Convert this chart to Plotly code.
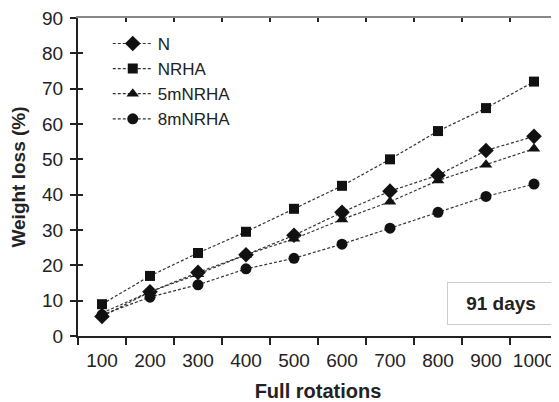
import plotly.graph_objects as go

rotations = ["100", "200", "300", "400", "500", "600", "700", "800", "900", "1000"]
N = [5.5, 12.5, 18.0, 23.0, 28.5, 35.0, 41.0, 45.5, 52.5, 56.5]
NRHA = [9.0, 17.0, 23.5, 29.5, 36.0, 42.5, 50.0, 58.0, 64.5, 72.0]
m5NRHA = [6.5, 12.5, 17.5, 23.0, 27.5, 33.0, 38.0, 44.0, 48.5, 53.0]
m8NRHA = [6.0, 11.0, 14.5, 19.0, 22.0, 26.0, 30.5, 35.0, 39.5, 43.0]
y_ticks = [0, 10, 20, 30, 40, 50, 60, 70, 80, 90]

series = [
    ("N", N, "diamond", 12),
    ("NRHA", NRHA, "square", 10),
    ("5mNRHA", m5NRHA, "triangle-up", 11),
    ("8mNRHA", m8NRHA, "circle", 11),
]

fig = go.Figure()
for name, vals, sym, size in series:
    fig.add_trace(go.Scatter(
        x=rotations, y=vals, name=name, mode="lines+markers",
        line=dict(color="#333333", width=1.2, dash="3px,2px"),
        marker=dict(symbol=sym, size=size, color="#111111"),
    ))

# invisible trace on overlay axes for inner ticks
fig.add_trace(go.Scatter(x=rotations, y=N, xaxis="x2", yaxis="y2",
                         mode="markers", marker=dict(opacity=0),
                         showlegend=False, hoverinfo="skip"))

font_family = "Liberation Sans, Arial, sans-serif"

# the page body has an 8px default margin, so the figure is sized to fit the window
fig.update_layout(
    width=551, height=394,
    margin=dict(l=70, r=1, t=10, b=66),
    paper_bgcolor="white", plot_bgcolor="white",
    font=dict(family=font_family, color="#222222"),
    showlegend=True,
    legend=dict(x=0.062, y=0.975, xanchor="left", yanchor="top",
                bgcolor="rgba(0,0,0,0)", font=dict(size=17, color="#222222"),
                itemwidth=40),
    xaxis=dict(
        type="category", categoryorder="array", categoryarray=rotations,
        range=[-0.5, 9.5], tickson="boundaries", tickangle=0, automargin=False,
        ticks="outside", ticklen=7, tickwidth=1.5, tickcolor="#222222",
        ticklabelstandoff=6, ticklabeloverflow="allow",
        showline=True, linecolor="#222222", linewidth=2,
        mirror=False, showgrid=False, zeroline=False,
        tickfont=dict(size=19, color="#222222"),
        title=dict(text="<b>Full rotations</b>", font=dict(size=20)),
    ),
    yaxis=dict(
        range=[0, 90], tickvals=y_ticks, ticks="outside", ticklen=6,
        tickwidth=1.5, tickcolor="#222222", automargin=False,
        ticklabelstandoff=3, ticklabeloverflow="allow",
        showline=True, linecolor="#222222", linewidth=2,
        showgrid=False, zeroline=False,
        tickfont=dict(size=19, color="#222222"),
        title=dict(text="<b>Weight loss (%)</b>", font=dict(size=19)),
    ),
    xaxis2=dict(
        type="category", categoryorder="array", categoryarray=rotations,
        range=[-0.5, 9.5], tickson="boundaries", overlaying="x", automargin=False,
        ticks="inside", ticklen=4, tickwidth=1.5, tickcolor="#222222",
        showticklabels=False, showgrid=False, zeroline=False,
        showline=True, linecolor="#888888", linewidth=1.5, side="top",
    ),
    yaxis2=dict(
        range=[0, 90], tickvals=y_ticks, overlaying="y", side="left", automargin=False,
        ticks="inside", ticklen=5, tickwidth=1.5, tickcolor="#222222",
        showticklabels=False, showgrid=False, zeroline=False,
        showline=False,
    ),
    shapes=[
        dict(type="line", xref="paper", yref="paper", x0=1, x1=1, y0=0, y1=1,
             line=dict(color="#888888", width=1.5)),
    ],
    annotations=[
        dict(text="<b>91 days</b>", xref="paper", yref="paper",
             x=0.993, y=0.036, xanchor="right", yanchor="bottom",
             showarrow=False, font=dict(size=19, color="#222222"),
             bordercolor="#cccccc", borderwidth=1, borderpad=10,
             bgcolor="white", width=86),
    ],
)

fig.write_html("out.html")
